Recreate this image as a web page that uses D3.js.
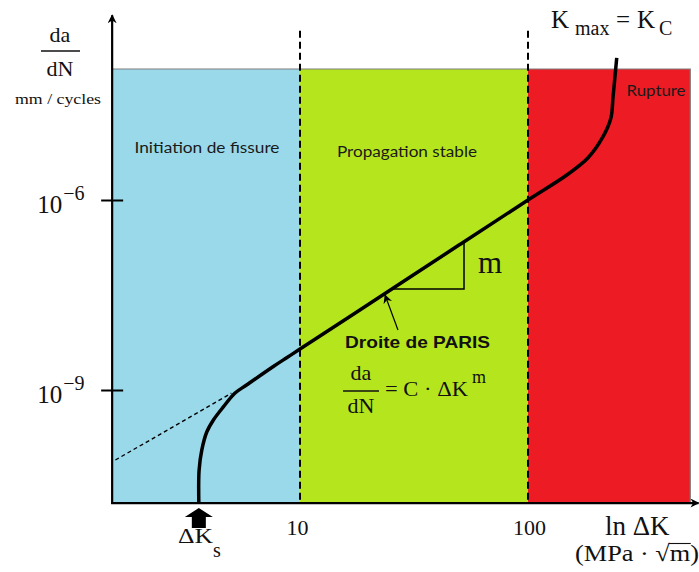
<!DOCTYPE html>
<html>
<head>
<meta charset="utf-8">
<script src="https://cdn.jsdelivr.net/npm/d3@7"></script>
<style>
  html, body { margin: 0; padding: 0; background: #ffffff; }
  svg { display: block; }
</style>
</head>
<body>
<svg id="chart" width="699" height="572"></svg>
<script>
// ---------------- DATA ----------------
const xTicks = [10, 100];                 // ΔK tick values (MPa·√m)
const yTicks = [1e-9, 1e-6];              // da/dN tick values (mm/cycle)
const yTickExponents = ["−9", "−6"];

const regionNames = ["Initiation de fissure", "Propagation stable", "Rupture"];
const regionBounds = [1.5, 10, 100, 515]; // ΔK limits of the three zones
const regionTop = 1.17e-4;                // top of the coloured zones
const axisBottom = 1.64e-11;              // bottom of plot (x axis)
const axisTopY = 8.3e-4;                  // tip of the y arrow
const axisRightX = 560;                   // tip of the x arrow
const dashedTop = 4.7e-4;                 // top of dashed vertical limits

// crack growth curve (ΔK, da/dN)
const curveDK   = [3.6, 3.61, 3.71, 3.90, 4.17, 4.61, 5.19, 5.83, 7.64, 8.74, 10, 20, 50, 100, 148, 183, 213, 231, 236, 245];
const curveRate = [1.64e-11, 5.45e-11, 1.13e-10, 2.17e-10, 3.36e-10, 5.4e-10, 8.95e-10, 1.2e-9, 2.35e-9, 3.23e-9,
                   4.43e-9, 2.26e-8, 1.96e-7, 1e-6, 2.48e-6, 4.6e-6, 9.9e-6, 1.97e-5, 4.2e-5, 1.75e-4];

// Paris line extrapolation (dashed)
const parisExtDK   = [1.55, 5.0];
const parisExtRate = [7.85e-11, 8.9e-10];

// slope triangle
const triDK   = [25.2, 52.4, 52.4];
const triRate = [3.94e-8, 3.94e-8, 2.17e-7];

// pointer arrow to the Paris line
const pointerDK   = [26.9, 23.6];
const pointerRate = [8.85e-9, 3.16e-8];

const deltaKs = 3.6; // threshold ΔKs

// ---------------- STYLE ----------------
const regionColors = ["#99d9ea", "#b5e61d", "#ed1c24"];
const serif = "'Liberation Serif', 'Times New Roman', serif";
const sans = "Lato, 'Open Sans', sans-serif";

// ---------------- SCALES ----------------
const x = d3.scaleLog().domain([10, 100]).range([300, 528]);
const y = d3.scaleLog().domain([1e-9, 1e-6]).range([390, 200]);

const svg = d3.select("#chart");

const defs = svg.append("defs");
defs.append("marker").attr("id", "arrowAxis")
  .attr("viewBox", "0 0 10 10").attr("refX", 9).attr("refY", 5)
  .attr("markerWidth", 9).attr("markerHeight", 9).attr("markerUnits", "userSpaceOnUse")
  .attr("orient", "auto")
  .append("path").attr("d", "M0,0 L10,5 L0,10 L3,5 Z").attr("fill", "#000");
defs.append("marker").attr("id", "arrowSmall")
  .attr("viewBox", "0 0 10 10").attr("refX", 9).attr("refY", 5)
  .attr("markerWidth", 9).attr("markerHeight", 9).attr("markerUnits", "userSpaceOnUse")
  .attr("orient", "auto")
  .append("path").attr("d", "M0,0 L10,5 L0,10 L3,5 Z").attr("fill", "#000");

// ---------------- REGIONS ----------------
const regions = regionNames.map((n, i) => ({ name: n, x0: regionBounds[i], x1: regionBounds[i + 1], color: regionColors[i] }));
svg.selectAll("rect.region").data(regions).join("rect")
  .attr("class", "region")
  .attr("x", d => x(d.x0)).attr("width", d => x(d.x1) - x(d.x0))
  .attr("y", y(regionTop)).attr("height", y(axisBottom) - y(regionTop))
  .attr("fill", d => d.color);
// grey border at top and right
svg.append("path")
  .attr("d", `M${x(regionBounds[0])},${y(regionTop)} H${x(regionBounds[3])} V${y(axisBottom)}`)
  .attr("fill", "none").attr("stroke", "#7f7f7f").attr("stroke-width", 1.2);

// region labels
const labelPos = [{ cx: 207, y: 153, w: 145, fs: 15.5 }, { cx: 407, y: 157, w: 140, fs: 15.5 }, { cx: 656, y: 96, w: 59, fs: 15.5 }];
svg.selectAll("text.region-label").data(regions).join("text")
  .attr("class", "region-label")
  .attr("x", (d, i) => labelPos[i].cx).attr("y", (d, i) => labelPos[i].y)
  .attr("text-anchor", "middle")
  .attr("font-family", sans).attr("font-size", (d, i) => labelPos[i].fs)
  .attr("fill", "#1a1a1a")
  .attr("textLength", (d, i) => labelPos[i].w).attr("lengthAdjust", "spacingAndGlyphs")
  .text(d => d.name);

// ---------------- DASHED LIMITS ----------------
svg.selectAll("line.limit").data(xTicks).join("line")
  .attr("class", "limit")
  .attr("x1", d => x(d)).attr("x2", d => x(d))
  .attr("y1", y(dashedTop)).attr("y2", y(axisBottom))
  .attr("stroke", "#000").attr("stroke-width", 2).attr("stroke-dasharray", "7,4");

// ---------------- AXES ----------------
svg.append("line")
  .attr("x1", x(regionBounds[0])).attr("x2", x(regionBounds[0]))
  .attr("y1", y(axisBottom) + 1).attr("y2", y(axisTopY))
  .attr("stroke", "#000").attr("stroke-width", 2.2).attr("marker-end", "url(#arrowAxis)");
svg.append("line")
  .attr("x1", x(regionBounds[0]) - 1).attr("x2", x(axisRightX))
  .attr("y1", y(axisBottom)).attr("y2", y(axisBottom))
  .attr("stroke", "#000").attr("stroke-width", 2.2).attr("marker-end", "url(#arrowAxis)");

// y ticks
const yAxis = d3.axisLeft(y).tickValues(yTicks).tickSizeInner(11).tickSizeOuter(0).tickFormat(() => "");
const gy = svg.append("g").attr("transform", `translate(${x(regionBounds[0])},0)`).call(yAxis);
gy.select(".domain").remove();
gy.selectAll(".tick line").attr("x1", -11).attr("x2", 11).attr("stroke", "#000").attr("stroke-width", 2);
gy.selectAll(".tick text").remove();
gy.selectAll(".tick").each(function (d, i) {
  const t = d3.select(this).append("text")
    .attr("x", -75).attr("y", 12.5).attr("text-anchor", "start")
    .attr("font-family", serif).attr("fill", "#111");
  t.append("tspan").attr("font-size", 25).text("10");
  t.append("tspan").attr("font-size", 20).attr("dy", -13).attr("dx", 1).text(yTickExponents[i]);
});

// x ticks
const xAxis = d3.axisBottom(x).tickValues(xTicks).tickSize(0).tickPadding(0).tickFormat(d3.format("d"));
const gx = svg.append("g").attr("transform", `translate(0,${y(axisBottom)})`).call(xAxis);
gx.select(".domain").remove();
gx.selectAll(".tick text")
  .attr("font-family", serif).attr("font-size", 22).attr("fill", "#111")
  .attr("dy", 0).attr("y", 32)
  .attr("dx", (d, i) => i === 0 ? -3 : 1);

// ---------------- CURVES ----------------
const pts = curveDK.map((k, i) => [x(k), y(curveRate[i])]);
svg.append("path")
  .attr("d", d3.line().curve(d3.curveCatmullRom.alpha(0.5))(pts))
  .attr("fill", "none").attr("stroke", "#000").attr("stroke-width", 3.5).attr("stroke-linecap", "butt");

const extPts = parisExtDK.map((k, i) => [x(k), y(parisExtRate[i])]);
svg.append("path")
  .attr("d", d3.line()(extPts))
  .attr("fill", "none").attr("stroke", "#000").attr("stroke-width", 1.4).attr("stroke-dasharray", "4,3");

const triPts = triDK.map((k, i) => [x(k), y(triRate[i])]);
svg.append("path")
  .attr("d", d3.line()(triPts))
  .attr("fill", "none").attr("stroke", "#000").attr("stroke-width", 1.5);

svg.append("line")
  .attr("x1", x(pointerDK[0])).attr("y1", y(pointerRate[0]))
  .attr("x2", x(pointerDK[1])).attr("y2", y(pointerRate[1]))
  .attr("stroke", "#000").attr("stroke-width", 1.2).attr("marker-end", "url(#arrowSmall)");

// slope label m
svg.append("text").attr("x", 478).attr("y", 273)
  .attr("font-family", serif).attr("font-size", 31).attr("fill", "#111").text("m");

// Droite de PARIS
svg.append("text").attr("x", 345).attr("y", 348)
  .attr("font-family", "'Liberation Sans', Arial, sans-serif").attr("font-weight", "bold")
  .attr("font-size", 16.5).attr("fill", "#111")
  .attr("textLength", 145).attr("lengthAdjust", "spacingAndGlyphs")
  .text("Droite de PARIS");

// fractions
function fraction(cx, yTop, yBot, barY, x1, x2, fs) {
  svg.append("text").attr("x", cx).attr("y", yTop).attr("text-anchor", "middle")
    .attr("font-family", serif).attr("font-size", fs).attr("fill", "#111").text("da");
  svg.append("line").attr("x1", x1).attr("x2", x2).attr("y1", barY).attr("y2", barY)
    .attr("stroke", "#111").attr("stroke-width", 1.3);
  svg.append("text").attr("x", cx).attr("y", yBot).attr("text-anchor", "middle")
    .attr("font-family", serif).attr("font-size", fs).attr("fill", "#111").text("dN");
}
fraction(361, 380, 413, 391, 343, 379, 22);
svg.append("text").attr("x", 385).attr("y", 396)
  .attr("font-family", serif).attr("font-size", 22).attr("fill", "#111")
  .attr("textLength", 83).attr("lengthAdjust", "spacingAndGlyphs")
  .text("= C · ΔK");
svg.append("text").attr("x", 472).attr("y", 383)
  .attr("font-family", serif).attr("font-size", 18).attr("fill", "#111").text("m");

// y axis title
fraction(60, 42, 76, 51, 41, 80, 22);
svg.append("text").attr("x", 58).attr("y", 104).attr("text-anchor", "middle")
  .attr("font-family", serif).attr("font-size", 15).attr("fill", "#111")
  .attr("textLength", 86).attr("lengthAdjust", "spacingAndGlyphs")
  .text("mm / cycles");

// helper
function txt(xp, yp, fs, s) {
  return svg.append("text").attr("x", xp).attr("y", yp)
    .attr("font-family", serif).attr("font-size", fs).attr("fill", "#111").text(s);
}
// Kmax = KC
txt(551, 28, 25, "K");
txt(575, 35, 20, "max");
txt(616, 28, 25, "=");
txt(637, 28, 25, "K");
txt(659, 35, 20, "C");

// ln ΔK (MPa·√m)
txt(605, 535, 27, "ln ΔK");
const unit = svg.append("text").attr("x", 575).attr("y", 561)
  .attr("font-family", serif).attr("font-size", 23).attr("fill", "#111")
  .attr("textLength", 124).attr("lengthAdjust", "spacingAndGlyphs")
  .text("(MPa · √m)");
const full = unit.text();
const mi = full.indexOf("m)");
const ext = unit.node().getExtentOfChar(mi);
const rootExt = unit.node().getExtentOfChar(mi - 1);
svg.append("line")
  .attr("x1", rootExt.x + rootExt.width - 1).attr("x2", ext.x + ext.width + 0.5)
  .attr("y1", rootExt.y + 2.5).attr("y2", rootExt.y + 2.5)
  .attr("stroke", "#111").attr("stroke-width", 1.1);

// ΔKs arrow
const ax = x(deltaKs), ay = y(axisBottom);
svg.append("path")
  .attr("d", `M${ax},${ay + 5} L${ax + 14},${ay + 14} L${ax + 7},${ay + 14} L${ax + 7},${ay + 25} L${ax - 7},${ay + 25} L${ax - 7},${ay + 14} L${ax - 14},${ay + 14} Z`)
  .attr("fill", "#000");
txt(178, 543, 22, "ΔK").attr("textLength", 35).attr("lengthAdjust", "spacingAndGlyphs");
txt(213, 557, 20, "s");
</script>
</body>
</html>
